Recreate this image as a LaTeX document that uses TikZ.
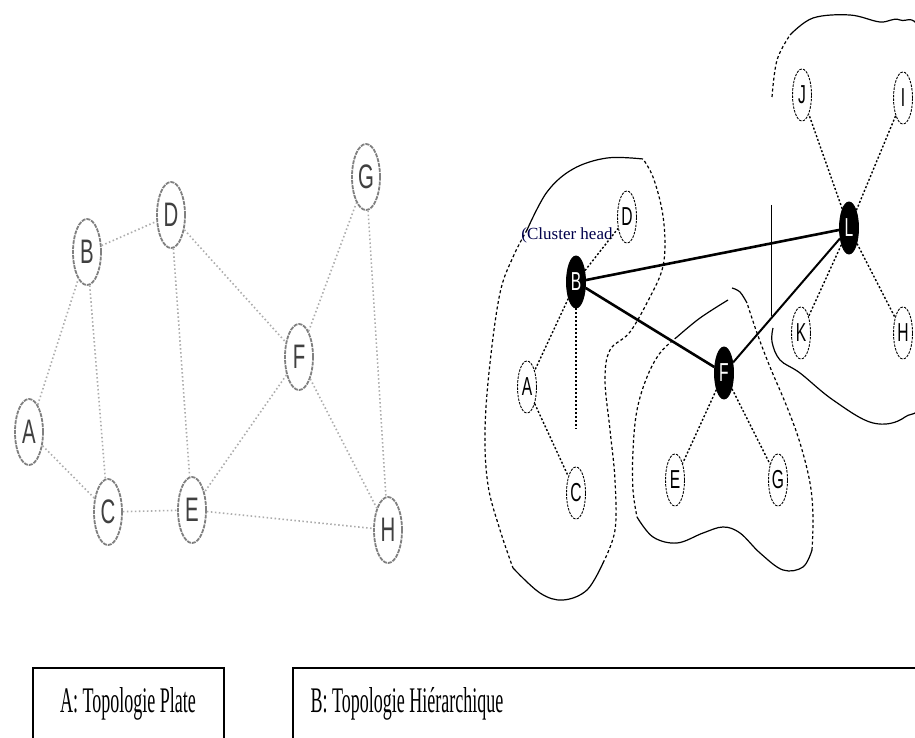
\documentclass[tikz,border=0pt]{standalone}
\usepackage{fontspec}
\setmainfont{Liberation Serif}
\newfontfamily\nodefont[FakeStretch=0.6]{Liberation Sans}
\newfontfamily\capfont[FakeStretch=0.5]{Liberation Serif}
\usepackage{tikz}
\usetikzlibrary{shapes.geometric}

\begin{document}
\begin{tikzpicture}[x=1pt,y=-1pt,
  flat/.style={ellipse,draw=gray,line width=1.8pt,dash pattern=on 4pt off 1pt,minimum width=28pt,minimum height=66pt,inner sep=0pt,text=black!75,font=\nodefont\fontsize{34}{34}\selectfont},
  flatlink/.style={gray!65,line width=1.6pt,dash pattern=on 1.5pt off 2.5pt},
  member/.style={ellipse,draw,line width=0.9pt,dash pattern=on 2.5pt off 1.2pt,minimum width=19pt,minimum height=52pt,inner sep=0pt,font=\nodefont\fontsize{26}{26}\selectfont},
  head/.style={member,solid,fill=black,text=white},
  memberlink/.style={line width=1.4pt,dash pattern=on 2pt off 2pt},
  headlink/.style={line width=2.6pt},
  hull/.style={line width=1.2pt},
  hulldash/.style={hull,dash pattern=on 3pt off 2.5pt},
  caption/.style={font=\capfont\fontsize{36}{36}\selectfont,anchor=base}]
\useasboundingbox (0,0) rectangle (915,738);
\clip (0,0) rectangle (915,738);
\fill[white] (0,0) rectangle (915,738);

% A: topologie plate
\node[flat] (pA) at (29,432) {A};
\node[flat] (pB) at (87,252) {B};
\node[flat] (pD) at (171,215) {D};
\node[flat] (pG) at (366,177) {G};
\node[flat] (pF) at (299,357) {F};
\node[flat] (pC) at (108,512) {C};
\node[flat] (pE) at (192,510) {E};
\node[flat] (pH) at (388,530) {H};
\draw[flatlink] (pA) -- (pB);
\draw[flatlink] (pA) -- (pC);
\draw[flatlink] (pB) -- (pD);
\draw[flatlink] (pB) -- (pC);
\draw[flatlink] (pD) -- (pE);
\draw[flatlink] (pD) -- (pF);
\draw[flatlink] (pF) -- (pG);
\draw[flatlink] (pF) -- (pE);
\draw[flatlink] (pF) -- (pH);
\draw[flatlink] (pG) -- (pH);
\draw[flatlink] (pC) -- (pE);
\draw[flatlink] (pE) -- (pH);

% B: topologie hierarchique
\draw[hull] plot[smooth,tension=0.6] coordinates {(643,159) (607,158) (573,169) (547,192) (527,230)};
\draw[hulldash] plot[smooth,tension=0.6] coordinates {(527,230) (513,257) (500,293) (490,363) (485,430) (488,485) (500,530) (513,568)};
\draw[hull] plot[smooth,tension=0.6] coordinates {(513,568) (540,593) (563,600) (587,590) (603,563)};
\draw[hulldash] plot[smooth,tension=0.6] coordinates {(603,563) (615,530) (615,480) (610,430) (605,380) (610,350) (630,332) (650,297) (662,270) (665,243) (662,210) (653,177) (643,159)};

\coordinate (m1) at (728,300);
\coordinate (m2) at (732,288);
\draw[hull] plot[smooth,tension=0.6] coordinates {(m1) (700,318) (677,337)};
\draw[hulldash] plot[smooth,tension=0.6] coordinates {(677,337) (660,353) (647,377) (637,410) (633,450) (633,490) (637,517)};
\draw[hull] plot[smooth,tension=0.6] coordinates {(637,517) (653,537) (677,543) (703,533) (723,527) (740,533) (760,553) (783,570) (803,567) (812,550)};
\draw[hulldash] plot[smooth,tension=0.6] coordinates {(812,550) (813,517) (810,483) (800,443) (787,407) (770,367) (757,333) (747,303)};
\draw[hull] plot[smooth,tension=0.6] coordinates {(747,303) (740,292) (m2)};

\coordinate (r1) at (772,97);
\coordinate (r2) at (773,328);
\draw[hulldash] plot[smooth,tension=0.6] coordinates {(r1) (777,60) (790,35)};
\draw[hull] plot[smooth,tension=0.6] coordinates {(790,35) (813,18) (850,15) (880,22) (900,20) (922,40) (935,200) (925,385) (905,417) (873,423) (833,400) (800,373) (780,360) (772,342) (r2)};
\coordinate (v1) at (771,205);
\coordinate (v2) at (771,316);
\draw[line width=0.8pt] (v1) -- (v2);

\node[member] (hD) at (627,217) {D};
\node[head] (hB) at (576,282) {B};
\node[member] (hA) at (527,387) {A};
\node[member] (hC) at (576,493) {C};
\node[head] (hF) at (724,373) {F};
\node[member] (hE) at (675,480) {E};
\node[member] (hG) at (778,480) {G};
\node[head] (hL) at (849,228) {L};
\node[member] (hJ) at (802,95) {J};
\node[member] (hI) at (903,98) {I};
\node[member] (hK) at (801,333) {K};
\node[member] (hH) at (903,333) {H};
\node[font=\fontsize{17}{17}\selectfont,text=black!70!blue,inner sep=1pt] (ch) at (567,235) {(Cluster head};

\draw[memberlink] (hB) -- (hD);
\draw[memberlink] (hB) -- (hA);
\draw[memberlink,shorten >=38pt] (hB) -- (hC);
\draw[memberlink] (hA) -- (hC);
\draw[memberlink] (hF) -- (hE);
\draw[memberlink] (hF) -- (hG);
\draw[memberlink] (hL) -- (hJ);
\draw[memberlink] (hL) -- (hI);
\draw[memberlink] (hL) -- (hK);
\draw[memberlink] (hL) -- (hH);
\draw[headlink] (hB) -- (hL);
\draw[headlink] (hB) -- (hF);
\draw[line width=2pt] (hF) -- (hL);

% legendes
\draw[line width=1.2pt] (33,760) |- (224,668) -- (224,760);
\draw[line width=1.2pt] (293,760) |- (930,668);
\node[caption] (capA) at (128,712) {A: Topologie Plate};
\node[caption] (capB) at (407,712) {B: Topologie Hiérarchique};
\end{tikzpicture}
\end{document}
